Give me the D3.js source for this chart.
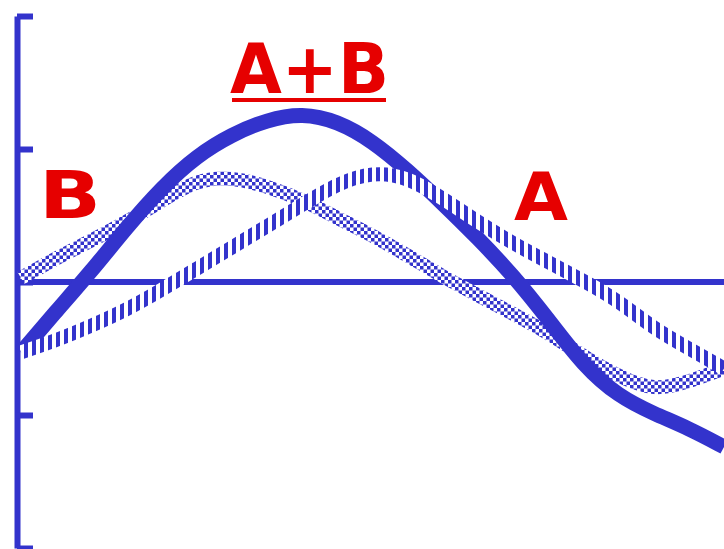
<!DOCTYPE html>
<html>
<head>
<meta charset="utf-8">
<script src="https://cdn.jsdelivr.net/npm/d3@7"></script>
<style>
  body { margin: 0; background: #fff; }
  svg { display: block; }
</style>
</head>
<body>
<div id="chart"></div>
<script>
// Werte
const xs = [0, 0.5, 1, 1.5, 2, 2.5, 3, 3.5, 4, 4.5, 5, 5.5, 6, 6.5, 7, 7.5, 8, 8.5, 9, 9.5, 10];
const seriesA = [-0.53, -0.44, -0.33, -0.21, -0.06, 0.10, 0.26, 0.42, 0.58, 0.74, 0.83, 0.79, 0.63, 0.45, 0.29, 0.15, 0.01, -0.14, -0.35, -0.50, -0.65];
const seriesB = [0.03, 0.18, 0.31, 0.45, 0.61, 0.77, 0.79, 0.72, 0.62, 0.48, 0.35, 0.20, 0.04, -0.10, -0.24, -0.38, -0.56, -0.71, -0.82, -0.75, -0.65];
const seriesAB = [-0.53, -0.22, 0.08, 0.41, 0.71, 0.95, 1.11, 1.22, 1.27, 1.21, 1.06, 0.84, 0.59, 0.33, 0.05, -0.28, -0.63, -0.86, -0.99, -1.10, -1.24];
const yTicks = [-2, -1, 0, 1, 2];

const width = 724, height = 549;
const blue = "#3333cc";
const red = "#e60000";

const svg = d3.select("#chart").append("svg")
  .attr("width", width)
  .attr("height", height);

// Muster für die Linien
const defs = svg.append("defs");
const stripes = defs.append("pattern")
  .attr("id", "stripes")
  .attr("patternUnits", "userSpaceOnUse")
  .attr("width", 8).attr("height", 8);
stripes.append("rect").attr("width", 8).attr("height", 8).attr("fill", "#fff");
stripes.append("rect").attr("width", 4).attr("height", 8).attr("fill", blue);

const checker = defs.append("pattern")
  .attr("id", "checker")
  .attr("patternUnits", "userSpaceOnUse")
  .attr("width", 7).attr("height", 7);
checker.append("rect").attr("width", 7).attr("height", 7).attr("fill", "#fff");
checker.append("rect").attr("width", 3.5).attr("height", 3.5).attr("fill", blue);
checker.append("rect").attr("x", 3.5).attr("y", 3.5).attr("width", 3.5).attr("height", 3.5).attr("fill", blue);

// Skalen
const x = d3.scaleLinear().domain([0, 10]).range([21, 724]);
const y = d3.scaleLinear().domain([-2, 2]).range([548, 16]);

// Y-Achse
const axis = svg.append("g")
  .attr("transform", "translate(17,0)")
  .call(d3.axisLeft(y).tickValues(yTicks).tickSize(-16).tickSizeOuter(0).tickFormat(""));
axis.select(".domain").attr("stroke", blue).attr("stroke-width", 6);
axis.selectAll(".tick line").attr("stroke", blue).attr("stroke-width", 6);

// Nulllinie
svg.append("line")
  .attr("x1", 17).attr("x2", width)
  .attr("y1", y(0)).attr("y2", y(0))
  .attr("stroke", blue)
  .attr("stroke-width", 6);

const line = d3.line()
  .x((d, i) => x(xs[i]))
  .y(d => y(d))
  .curve(d3.curveBasis);

svg.append("path")
  .attr("d", line(seriesB))
  .attr("fill", "none")
  .attr("stroke", "url(#checker)")
  .attr("stroke-width", 14);

svg.append("path")
  .attr("d", line(seriesAB))
  .attr("fill", "none")
  .attr("stroke", blue)
  .attr("stroke-width", 15);

svg.append("path")
  .attr("d", line(seriesA))
  .attr("fill", "none")
  .attr("stroke", "url(#stripes)")
  .attr("stroke-width", 14);

// Beschriftungen
svg.append("text")
  .attr("x", 39).attr("y", 218)
  .attr("textLength", 62).attr("lengthAdjust", "spacingAndGlyphs")
  .style("font-family", "DejaVu Sans").style("font-weight", "bold").style("font-size", "66px")
  .attr("fill", red)
  .text("B");

svg.append("text")
  .attr("x", 514).attr("y", 220)
  .attr("textLength", 54).attr("lengthAdjust", "spacingAndGlyphs")
  .style("font-family", "DejaVu Sans").style("font-weight", "bold").style("font-size", "66px")
  .attr("fill", red)
  .text("A");

svg.append("text")
  .attr("x", 230).attr("y", 93)
  .attr("textLength", 159).attr("lengthAdjust", "spacingAndGlyphs")
  .style("font-family", "DejaVu Sans").style("font-weight", "bold").style("font-size", "70px")
  .attr("fill", red)
  .text("A+B");

svg.append("line")
  .attr("x1", 232).attr("x2", 386)
  .attr("y1", 100).attr("y2", 100)
  .attr("stroke", red)
  .attr("stroke-width", 4);
</script>
</body>
</html>
